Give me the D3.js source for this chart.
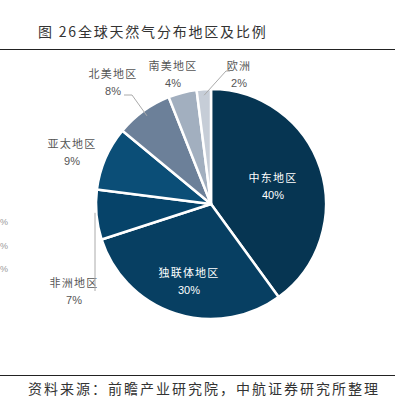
<!DOCTYPE html>
<html><head><meta charset="utf-8">
<script src="https://cdn.jsdelivr.net/npm/d3@7"></script>
<style>
body{margin:0;background:#fff;}
svg{display:block;}
</style></head>
<body>
<svg id="c" width="399" height="398"></svg>
<script>
const categories = ["中东地区","独联体地区","非洲地区","亚太地区","北美地区","南美地区","欧洲"];
const values = [40, 30, 7, 9, 8, 4, 2];
const colors = ["#063552","#073f62","#064369","#0b4e77","#6c8099","#a2afbf","#c6cdd7"];
const title = "图 26全球天然气分布地区及比例";
const source = "资料来源：前瞻产业研究院，中航证券研究所整理";

const svg = d3.select("#c");
const cjk = "'Noto Sans CJK SC', 'Noto Sans', sans-serif";
const cx = 211, cy = 204, R = 115;

// title and rules
svg.append("text").attr("x",38).attr("y",37).attr("font-family",cjk)
  .attr("font-size",14).attr("letter-spacing",1.8).attr("fill","#333").text(title);
svg.append("line").attr("x1",0).attr("x2",395).attr("y1",49.5).attr("y2",49.5)
  .attr("stroke","#222").attr("stroke-width",1.2);
svg.append("line").attr("x1",0).attr("x2",395).attr("y1",375.5).attr("y2",375.5)
  .attr("stroke","#222").attr("stroke-width",1);
svg.append("text").attr("x",28).attr("y",394).attr("font-family",cjk)
  .attr("font-size",14).attr("letter-spacing",2).attr("fill","#333").text(source);

// remnants at left edge
[221,245,268].forEach(y=>{
  svg.append("text").attr("x",0).attr("y",y+4).attr("text-anchor","start")
    .attr("font-family","'Liberation Sans',Arial,sans-serif").attr("font-size",9)
    .attr("fill","#999").text("%");
});

const pie = d3.pie().sort(null).value(d=>d.v).startAngle(0).endAngle(2*Math.PI);
const data = categories.map((c,i)=>({c, v:values[i], col:colors[i]}));
const arcs = pie(data);
const arc = d3.arc().innerRadius(0).outerRadius(R);
const g = svg.append("g").attr("transform",`translate(${cx},${cy})`);
g.selectAll("path").data(arcs).join("path")
  .attr("d",arc).attr("fill",d=>d.data.col)
  .attr("stroke","#fff").attr("stroke-width",2.5).attr("stroke-linejoin","round");

// label layout (positions relative to page)
const labelPos = {
  "中东地区":{x:273,y:182,inside:true},
  "独联体地区":{x:189,y:277,inside:true},
  "非洲地区":{x:74,y:287},
  "亚太地区":{x:72,y:148},
  "北美地区":{x:113,y:78},
  "南美地区":{x:173,y:70},
  "欧洲":{x:239,y:70}
};
const pt = (a, r) => [cx + r*Math.sin(a), cy - r*Math.cos(a)];
arcs.forEach(d=>{
  const p = labelPos[d.data.c];
  const fill = p.inside ? "#ffffff" : "#555";
  svg.append("text").attr("x",p.x).attr("y",p.y).attr("text-anchor","middle")
    .attr("font-family",cjk).attr("font-size",11).attr("letter-spacing",1.2)
    .attr("fill",fill).text(d.data.c);
  svg.append("text").attr("x",p.x).attr("y",p.y+17).attr("text-anchor","middle")
    .attr("font-family","'Liberation Sans',Arial,sans-serif").attr("font-size",11)
    .attr("fill",fill).text(d.data.v+"%");
});

// leader lines
const mid = d => (d.startAngle + d.endAngle)/2;
const byName = n => arcs.find(d=>d.data.c===n);
function leader(name, pts, inset){
  const d = byName(name);
  const s = pt(mid(d), R - inset);
  svg.append("polyline").attr("points",[s,...pts].map(p=>p.join(",")).join(" "))
    .attr("fill","none").attr("stroke","#aaa").attr("stroke-width",1);
}
const af = pt(mid(byName("非洲地区")), R);
svg.append("polyline").attr("points",[[95,af[1]-2],[95,291]].map(p=>p.join(",")).join(" "))
  .attr("fill","none").attr("stroke","#aaa").attr("stroke-width",1);
leader("北美地区", [[132,95],[124,95]], 6);
leader("欧洲", [[226,71],[230,71]], 6);
</script>
</body></html>
